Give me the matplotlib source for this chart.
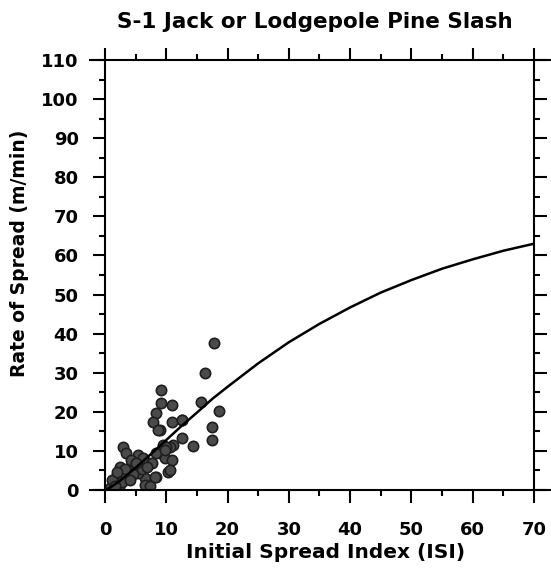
import numpy as np
import matplotlib
matplotlib.use("Agg")
import matplotlib.pyplot as plt
from matplotlib.ticker import MultipleLocator


# ---------------------------------------------------------
# data
# ---------------------------------------------------------
title = "S-1 Jack or Lodgepole Pine Slash"
x_label = "Initial Spread Index (ISI)"
y_label = "Rate of Spread (m/min)"

# observed fires
obs_isi = [17.8, 16.3, 15.6, 18.6, 17.5, 17.4, 14.4, 12.5, 12.5, 11.1,
           9.2, 9.1, 10.9, 8.4, 7.9, 9.0, 10.9, 12.5, 9.5, 10.6,
           3.0, 3.5, 5.4, 8.7, 10.0, 9.0, 9.8, 10.9, 10.3, 8.4,
           6.5, 6.5, 4.9, 3.8, 2.4, 1.9, 1.4, 2.2, 3.0, 5.4,
           7.1, 4.3, 0.8, 8.1, 10.6, 8.4, 9.8, 6.2, 7.3, 6.0,
           4.5, 2.7, 1.2, 3.3, 5.0, 7.6, 2.0, 4.0, 6.8, 1.6]
obs_ros = [37.5, 30.0, 22.6, 20.3, 16.2, 12.8, 11.3, 17.9, 13.4, 11.5,
           25.6, 22.2, 21.7, 19.6, 17.5, 15.3, 17.5, 17.9, 11.5, 11.1,
           11.1, 9.4, 9.0, 15.3, 11.1, 9.4, 8.1, 7.7, 4.7, 3.4,
           3.0, 1.3, 6.4, 5.1, 6.0, 3.8, 1.7, 0.8, 3.0, 4.3,
           6.8, 7.7, 0.4, 3.4, 5.1, 9.4, 10.2, 8.1, 1.0, 5.5,
           4.0, 2.0, 2.5, 5.5, 7.0, 7.0, 4.5, 2.5, 6.0, 1.0]

# fitted spread curve
curve_isi = [0, 1, 2.5, 5, 7.5, 10, 12.5, 15, 17.5, 20, 25, 30,
             35, 40, 45, 50, 55, 60, 65, 70]
curve_ros = [0, 0.8, 2.4, 5.7, 9.2, 12.8, 16.4, 19.8, 23.3, 26.4, 32.4, 37.8,
             42.5, 46.7, 50.5, 53.7, 56.6, 59.0, 61.2, 63.0]


# ---------------------------------------------------------
# plot
# ---------------------------------------------------------
fig = plt.figure(figsize=(5.51, 5.75), dpi=100)
ax = fig.add_axes([0.1906, 0.1478, 0.7784, 0.7479])

ax.plot(curve_isi, curve_ros, color="black", lw=1.8, zorder=3)
ax.scatter(obs_isi, obs_ros, s=55, facecolor="#4a4a4a", edgecolor="#1e1e1e",
           linewidth=1.2, zorder=2)

ax.set_xlim(0, 70)
ax.set_ylim(0, 110)
ax.xaxis.set_major_locator(MultipleLocator(10))
ax.xaxis.set_minor_locator(MultipleLocator(5))
ax.yaxis.set_major_locator(MultipleLocator(10))
ax.yaxis.set_minor_locator(MultipleLocator(5))

ax.tick_params(which="both", direction="out", top=True, right=True,
               width=1.5, color="black")
ax.tick_params(which="major", length=9)
ax.tick_params(which="minor", length=4.5)
ax.tick_params(axis="x", which="major", pad=13)
ax.tick_params(axis="y", which="major", pad=10)

for lab in ax.get_xticklabels() + ax.get_yticklabels():
    lab.set_fontsize(13)
    lab.set_fontweight("bold")

for side in ["left", "right", "top", "bottom"]:
    ax.spines[side].set_linewidth(1.5)
ax.spines["top"].set_bounds(-2.5, 74)
ax.spines["bottom"].set_bounds(-2.5, 74)

fig.text(0.571, 0.962, title, ha="center", va="center",
         fontsize=15.5, fontweight="bold")
fig.text(0.59, 0.040, x_label, ha="center", va="center",
         fontsize=14.5, fontweight="bold")
fig.text(0.036, 0.559, y_label, ha="center", va="center", rotation=90,
         fontsize=13.5, fontweight="bold")

fig.savefig("out.png", dpi=100)
